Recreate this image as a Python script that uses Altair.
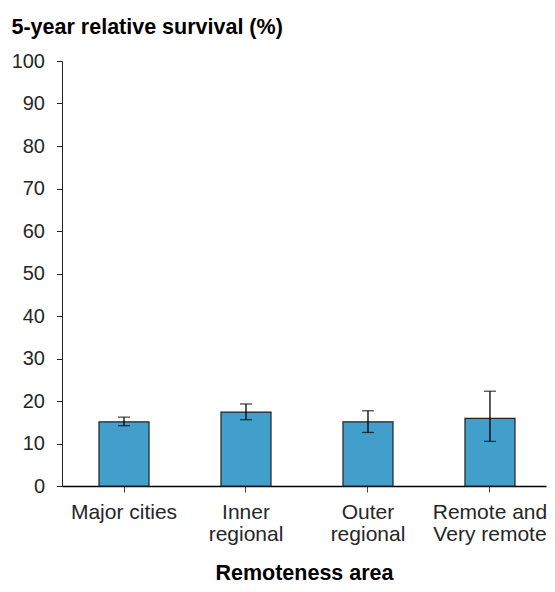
import altair as alt
import pandas as pd

categories = ["Major cities", "Inner\nregional", "Outer\nregional", "Remote and\nVery remote"]
survival = [15.1, 17.4, 15.1, 15.9]
lower = [14.2, 15.6, 12.6, 10.5]
upper = [16.2, 19.3, 17.7, 22.3]

df = pd.DataFrame({"area": categories, "value": survival, "lo": lower, "hi": upper})

FONT = "Liberation Sans"

x = alt.X(
    "area:N",
    sort=categories,
    scale=alt.Scale(paddingInner=0.59, paddingOuter=0.2787, align=0.544),
    axis=alt.Axis(
        title="Remoteness area",
        labelAngle=0,
        labelExpr="split(datum.label, '\\n')",
        labelFont=FONT,
        labelFontSize=21,
        labelColor="#262626",
        labelLineHeight=22,
        labelPadding=9,
        labelBaseline="top",
        tickSize=6,
        tickColor="#444",
        domainColor="#000",
        domainWidth=1.5,
        titleFont=FONT,
        titleFontSize=21.5,
        titleFontWeight="bold",
        titleColor="#000",
        titleBaseline="alphabetic",
        titleY=93,
    ),
)

y_axis = alt.Axis(
    title="5-year relative survival (%)",
    values=list(range(0, 101, 10)),
    grid=False,
    labelFont=FONT,
    labelFontSize=20,
    labelColor="#262626",
    labelPadding=12,
    tickSize=5.5,
    tickColor="#222",
    domainColor="#222",
    domainWidth=1,
    titleFont=FONT,
    titleFontSize=21.5,
    titleFontWeight="bold",
    titleColor="#000",
    titleAngle=0,
    titleAlign="left",
    titleBaseline="alphabetic",
    titleX=-51,
    titleY=-28,
)

base = alt.Chart(df)

bars = base.mark_bar(color="#429ECB", stroke="#222", strokeWidth=1.2).encode(
    x=x,
    y=alt.Y("value:Q", scale=alt.Scale(domain=[0, 100], nice=False), axis=y_axis),
)

rules = base.mark_rule(color="#000", strokeWidth=1.3).encode(
    x=alt.X("area:N", sort=categories),
    y="lo:Q",
    y2="hi:Q",
)

caps_lo = base.mark_tick(color="#000", size=12, thickness=1.3).encode(
    x=alt.X("area:N", sort=categories), y="lo:Q"
)
caps_hi = base.mark_tick(color="#000", size=12, thickness=1.3).encode(
    x=alt.X("area:N", sort=categories), y="hi:Q"
)

chart = (
    alt.layer(bars, rules, caps_lo, caps_hi)
    .properties(
        width=484,
        height=425,
        padding={"left": 54, "top": 53, "right": 1, "bottom": 98},
        autosize=alt.AutoSizeParams(type="none"),
    )
    .configure_view(stroke=None)
)

chart.save("out.html", embed_options={"renderer": "svg", "actions": False})
